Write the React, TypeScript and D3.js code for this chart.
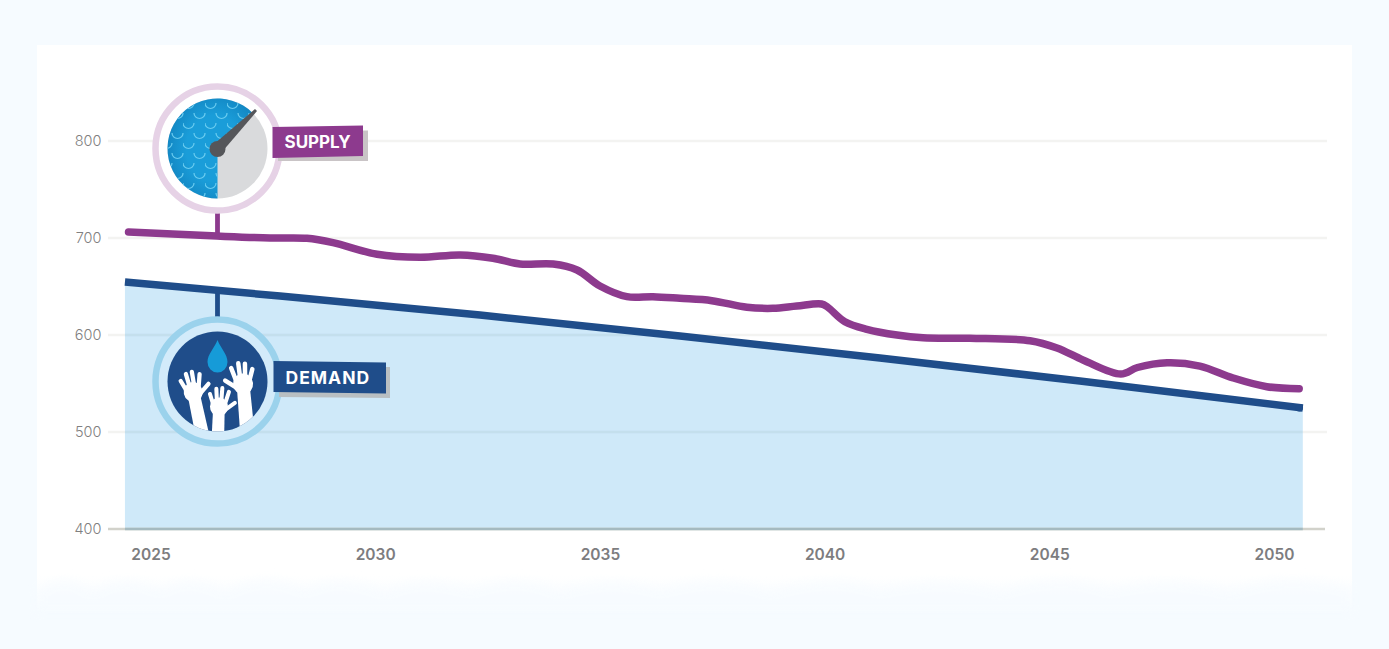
import React from "react";
import * as d3 from "d3";

const supplyYears = [2024.5, 2026.47, 2027.65, 2028.47, 2029.05, 2030.03, 2030.99, 2031.88, 2032.61, 2033.21, 2033.95, 2034.48, 2034.99, 2035.59, 2036.17, 2036.77, 2037.48, 2038.26, 2038.84, 2039.37, 2039.92, 2040.06, 2040.44, 2040.93, 2041.6, 2042.18, 2043.22, 2044.56, 2045.16, 2045.75, 2046.58, 2046.95, 2047.61, 2048.34, 2049.08, 2049.83, 2050.55];
const supplyValues = [706.2, 702, 700, 699.7, 695.2, 683.2, 680.1, 682.5, 679.1, 673.2, 673.2, 667, 650.5, 639.5, 639.5, 637.8, 635.4, 628.6, 627.5, 629.9, 632, 628.6, 613.7, 605.9, 600, 597.2, 596.6, 594.1, 586.6, 574, 559.8, 566.5, 571.4, 568, 555.7, 546.7, 544.6];
const demandYears = [2024.42, 2027.87, 2032.32, 2036.77, 2041.22, 2045.67, 2050.63];
const demandValues = [654.6, 640.2, 620.6, 599, 576.3, 552.6, 524.7];
const yTicks = [400, 500, 600, 700, 800];
const xTicks = [2025, 2030, 2035, 2040, 2045, 2050];

const W = 1389, H = 649;
const x = d3.scaleLinear().domain([2025, 2050]).range([151, 1274.5]);
const y = d3.scaleLinear().domain([400, 800]).range([529, 141]);
const supply = supplyYears.map((d, i) => [d, supplyValues[i]] as [number, number]);
const demand = demandYears.map((d, i) => [d, demandValues[i]] as [number, number]);
const supplyPath = d3.line<[number, number]>().x(d => x(d[0])).y(d => y(d[1])).curve(d3.curveCatmullRom.alpha(0.5))(supply)!;
const demandPath = d3.line<[number, number]>().x(d => x(d[0])).y(d => y(d[1])).curve(d3.curveMonotoneX)(demand)!;
const areaPath = d3.area<[number, number]>().x(d => x(d[0])).y0(y(400)).y1(d => y(d[1])).curve(d3.curveMonotoneX)(demand)!;
const x0 = x(demandYears[0]);
const x1 = x(demandYears[demandYears.length - 1]);

const F = "Inter, Lato, sans-serif";
const BG = "#f6fbff";
const blueSector = d3.arc()({ innerRadius: 0, outerRadius: 50, startAngle: Math.PI, endAngle: Math.PI * 2 + Math.PI / 4 })!;
const grayDisc = d3.arc()({ innerRadius: 0, outerRadius: 50, startAngle: 0, endAngle: Math.PI * 2 })!;

function Hand({ tx, ty, s, r, flip }: { tx: number; ty: number; s: number; r: number; flip?: boolean }) {
  const fingers: [number, number, number, number][] = [
    [-7, -4, -10.5, -16],
    [-2.4, -6, -3, -20],
    [2.6, -6, 3.6, -19],
    [7, -3, 10.5, -13],
    [-7, 4, -17.5, -4],
  ];
  return (
    <g transform={`translate(${tx},${ty}) rotate(${r}) scale(${flip ? -s : s},${s})`} stroke="#fff" fill="#fff" strokeLinecap="round">
      <path d="M-6.5 6 L-7.5 70 L7.5 70 L6.5 6 Z" stroke="none" />
      <ellipse cx={0} cy={1} rx={10} ry={10.5} stroke="none" />
      {fingers.map((f, i) => <line key={i} x1={f[0]} y1={f[1]} x2={f[2]} y2={f[3]} strokeWidth={4.5} />)}
    </g>
  );
}

export default function App() {
  return (
    <svg width={W} height={H} viewBox={`0 0 ${W} ${H}`} style={{ position: "absolute", left: 0, top: 0, display: "block" }}>
      <defs>
        <filter id="soft" x="-5%" y="-60%" width="110%" height="220%"><feGaussianBlur stdDeviation="5" /></filter>
        <linearGradient id="fade" x1="0" y1="0" x2="0" y2="1">
          <stop offset="0%" stopColor="#fff" />
          <stop offset="100%" stopColor={BG} />
        </linearGradient>
        <pattern id="waves" width="22" height="20" patternUnits="userSpaceOnUse" patternTransform="translate(205 100)">
          <path d="M0 3 A5.5 5.5 0 0 0 11 3 M11 13 A5.5 5.5 0 0 0 22 13 M-11 13 A5.5 5.5 0 0 0 0 13" fill="none" stroke="#6accf0" strokeWidth="1.2" />
        </pattern>
        <clipPath id="demandClip"><circle cx={217.5} cy={381.5} r={50} /></clipPath>
        <clipPath id="areaClip"><path d={areaPath} /></clipPath>
        <clipPath id="sectorClip"><path d={blueSector} transform="translate(217.5,148.5)" /></clipPath>
        <radialGradient id="blueShade" cx="55%" cy="50%" r="55%">
          <stop offset="60%" stopColor="#1a9dd9" />
          <stop offset="100%" stopColor="#1388c4" />
        </radialGradient>
      </defs>

      <rect width={W} height={H} fill={BG} />
      <rect x={37} y={45} width={1315} height={530} fill="#fff" />
      <rect x={37} y={575} width={1315} height={38} fill="url(#fade)" />
      <path filter="url(#soft)" fill={BG} opacity={0.55}
        d="M37 590 Q65 568 92 590 Q125 570 160 588 Q190 570 225 590 Q265 568 305 588 Q340 570 385 590 Q420 572 470 588 Q520 570 560 590 Q610 572 660 588 Q720 570 770 590 Q830 570 880 588 Q950 572 1000 590 Q1060 568 1110 588 Q1170 572 1230 590 Q1290 568 1352 588 V612 H37 Z" />

      {yTicks.slice(1).map(t => (
        <line key={t} x1={108} x2={1327} y1={y(t)} y2={y(t)} stroke="#f3f3f1" strokeWidth={2.5} />
      ))}
      <path d={areaPath} fill="#cfe9f9" />
      <g clipPath="url(#areaClip)">
        {yTicks.slice(1, 3).map(t => (
          <line key={t} x1={x0} x2={x1} y1={y(t)} y2={y(t)} stroke="#8aa5a8" strokeOpacity={0.14} strokeWidth={2.5} />
        ))}
      </g>
      <line x1={108} x2={1325} y1={y(400)} y2={y(400)} stroke="#d2d2cb" strokeWidth={2.5} />
      <line x1={x0} x2={x1} y1={y(400)} y2={y(400)} stroke="#a5bac0" strokeWidth={2.5} />

      {yTicks.map(t => (
        <text key={t} x={101.5} y={y(t)} dy="0.36em" textAnchor="end" fontFamily={F} fontSize={14.5} fontWeight={300} fill="#808080">{t}</text>
      ))}
      {xTicks.map(t => (
        <text key={t} x={x(t)} y={554.5} dy="0.36em" textAnchor="middle" fontFamily={F} fontSize={15.5} fontWeight={600} fill="#7d7d7f">{t}</text>
      ))}

      <line x1={217.5} x2={217.5} y1={212} y2={236} stroke="#8d3a8e" strokeWidth={4.8} />
      <line x1={217.5} x2={217.5} y1={290} y2={317} stroke="#1f4d8a" strokeWidth={4.8} />

      <path d={supplyPath} fill="none" stroke="#8d3a8e" strokeWidth={7.5} strokeLinecap="round" strokeLinejoin="round" />
      <path d={demandPath} fill="none" stroke="#1f4d8a" strokeWidth={7.5} strokeLinecap="butt" />
      <circle cx={x1 - 3.5} cy={y(demandValues[demandValues.length - 1]) - 0.4} r={3.75} fill="#1f4d8a" />

      <g>
        <circle cx={217.5} cy={148.5} r={62} fill="#fff" stroke="#e6d2e6" strokeWidth={6.5} />
        <g transform="translate(217.5,148.5)">
          <path d={grayDisc} fill="#d9dadc" />
          <path d={blueSector} fill="url(#blueShade)" />
        </g>
        <rect x={165} y={96} width={106} height={106} fill="url(#waves)" clipPath="url(#sectorClip)" />
        <path d="M213.5 144.5 L255 109 L257 111 L221.5 152.5 Z" fill="#55565a" />
        <circle cx={217.5} cy={149} r={8} fill="#55565a" />
        <path d="M278 131 L368 130.5 L368 161 L278 161 Z" fill="#c9c4c6" />
        <path d="M272.5 127 L363 125.5 L363 156 L272.5 158 Z" fill="#8d3a8e" />
        <text x={284.5} y={141.5} dy="0.36em" fontFamily={F} fontSize={17} fontWeight={700} fill="#fff">SUPPLY</text>
      </g>

      <g>
        <circle cx={217.5} cy={381.5} r={62} fill="#d3ebfa" stroke="#9bd2ec" strokeWidth={6.5} />
        <circle cx={217.5} cy={381.5} r={50} fill="#1f4d8a" />
        <g clipPath="url(#demandClip)">
          <path d="M217.5 340 C221 349 227.5 354 227.5 362 A10 10.5 0 0 1 207.5 362 C207.5 354 214 349 217.5 340 Z" fill="#169bd8" />
          <Hand tx={193} ty={391} s={0.95} r={-12} flip />
          <Hand tx={219} ty={406} s={0.9} r={2} flip />
          <Hand tx={243} ty={383} s={1} r={-5} />
        </g>
        <path d="M279 367 L390 367 L390 398 L279 397 Z" fill="#b9bfc2" />
        <path d="M273.5 361 L386 362.5 L386 393.5 L273.5 392 Z" fill="#1f4d8a" />
        <text x={285.5} y={377.5} dy="0.36em" fontFamily={F} fontSize={17.5} fontWeight={700} letterSpacing={1} fill="#fff">DEMAND</text>
      </g>
    </svg>
  );
}
